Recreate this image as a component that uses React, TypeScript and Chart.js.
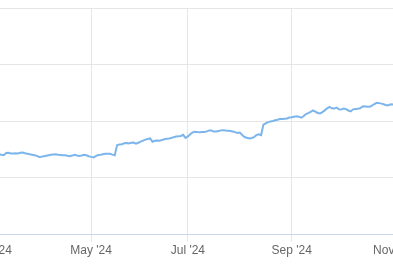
import React, { useEffect, useRef } from "react";
import { Chart, registerables } from "chart.js";

Chart.register(...registerables);

// Daily closing values, one per trading day starting Mar 1 2024
const prices: number[] = [
  34.10, 34.18, 34.10, 34.18, 34.10, 34.01, 34.40, 34.45, 34.33, 34.31,
  34.36, 34.33, 34.43, 34.49, 34.36, 34.27, 34.18, 34.11, 34.01, 33.90,
  33.71, 33.76, 33.85, 33.92, 34.01, 34.08, 34.15, 34.18, 34.10, 34.06,
  34.02, 34.01, 33.92, 33.83, 33.95, 34.10, 33.97, 33.88, 33.97, 34.10,
  34.01, 33.83, 33.72, 33.62, 33.87, 34.04, 34.08, 34.18, 34.27, 34.26,
  34.27, 34.11, 34.01, 35.78, 35.92, 35.96, 36.13, 36.15, 36.08, 36.21,
  36.24, 36.06, 36.21, 36.40, 36.60, 36.77, 36.88, 36.97, 36.40, 36.56,
  36.63, 36.58, 36.70, 36.84, 36.93, 36.95, 37.06, 37.20, 37.30, 37.34,
  37.41, 37.61, 37.06, 37.34, 37.73, 38.05, 38.14, 38.10, 38.07, 38.09,
  38.09, 38.23, 38.39, 38.37, 38.19, 38.19, 38.30, 38.40, 38.44, 38.39,
  38.35, 38.30, 38.21, 38.09, 37.94, 38.00, 37.59, 37.23, 37.09, 36.97,
  37.06, 37.20, 37.55, 37.70, 37.55, 39.40, 39.65, 39.86, 39.98, 40.05,
  40.18, 40.28, 40.39, 40.41, 40.46, 40.50, 40.66, 40.73, 40.82, 40.90,
  40.82, 40.66, 40.89, 41.28, 41.45, 41.67, 41.91, 41.72, 41.47, 41.40,
  41.63, 41.93, 42.29, 42.54, 42.30, 42.25, 42.43, 42.13, 42.07, 42.27,
  42.16, 41.91, 41.74, 42.11, 42.16, 42.20, 42.29, 42.61, 42.66, 42.57,
  42.57, 42.78, 43.05, 43.26, 43.21, 43.12, 43.01, 42.82, 42.84, 43.00,
  42.96, 42.91,
];

// Trading-day index of each month label
const tickIndex: number[] = [0, 42, 83, 127, 170];
const tickLabels: string[] = ["Mar '24", "May '24", "Jul '24", "Sep '24", "Nov '24"];

// y axis bounds (labels are outside the visible crop)
const yMin = 20;
const yMax = 60;
const yStep = 10;

// visible index window of the (cropped) chart
const xMin = -13.56;
const xMax = 186.86;

export default function App() {
  const ref = useRef<HTMLCanvasElement>(null);

  useEffect(() => {
    if (!ref.current) return;
    const chart = new Chart(ref.current, {
      type: "line",
      data: {
        datasets: [
          {
            data: prices.map((v, i) => ({ x: i, y: v })),
            borderColor: "#7cb5ec",
            borderWidth: 2,
            pointRadius: 0,
            pointHoverRadius: 0,
            fill: false,
            tension: 0,
          },
        ],
      },
      options: {
        animation: false,
        responsive: false,
        devicePixelRatio: 1,
        layout: { padding: { top: 8, bottom: 7, left: 0, right: 0 } },
        plugins: {
          legend: { display: false },
          tooltip: { enabled: false },
        },
        scales: {
          x: {
            type: "linear",
            min: xMin,
            max: xMax,
            afterBuildTicks: (scale: any) => {
              scale.ticks = tickIndex.map((v) => ({ value: v }));
            },
            ticks: {
              autoSkip: false,
              maxRotation: 0,
              padding: 2,
              color: "#666666",
              font: { family: "'Liberation Sans', Arial, sans-serif", size: 12 },
              callback: (value: any) => {
                const k = tickIndex.indexOf(Number(value));
                return k >= 0 ? tickLabels[k] : "";
              },
            },
            grid: {
              color: "#e6e6e6",
              tickLength: 7,
              drawTicks: true,
            },
            border: { color: "#ccd6eb", width: 1 },
          },
          y: {
            type: "linear",
            min: yMin,
            max: yMax,
            ticks: { display: false, stepSize: yStep },
            grid: { color: "#e6e6e6", drawTicks: false },
            border: { display: false },
          },
        },
      },
    });
    return () => chart.destroy();
  }, []);

  return (
    <div
      style={{
        position: "fixed",
        left: 0,
        top: 0,
        width: 393,
        height: 267,
        overflow: "hidden",
        background: "#ffffff",
      }}
    >
      <div style={{ position: "absolute", left: -40, top: 0, width: 473, height: 267 }}>
        <canvas ref={ref} width={473} height={267} style={{ display: "block" }} />
      </div>
    </div>
  );
}
